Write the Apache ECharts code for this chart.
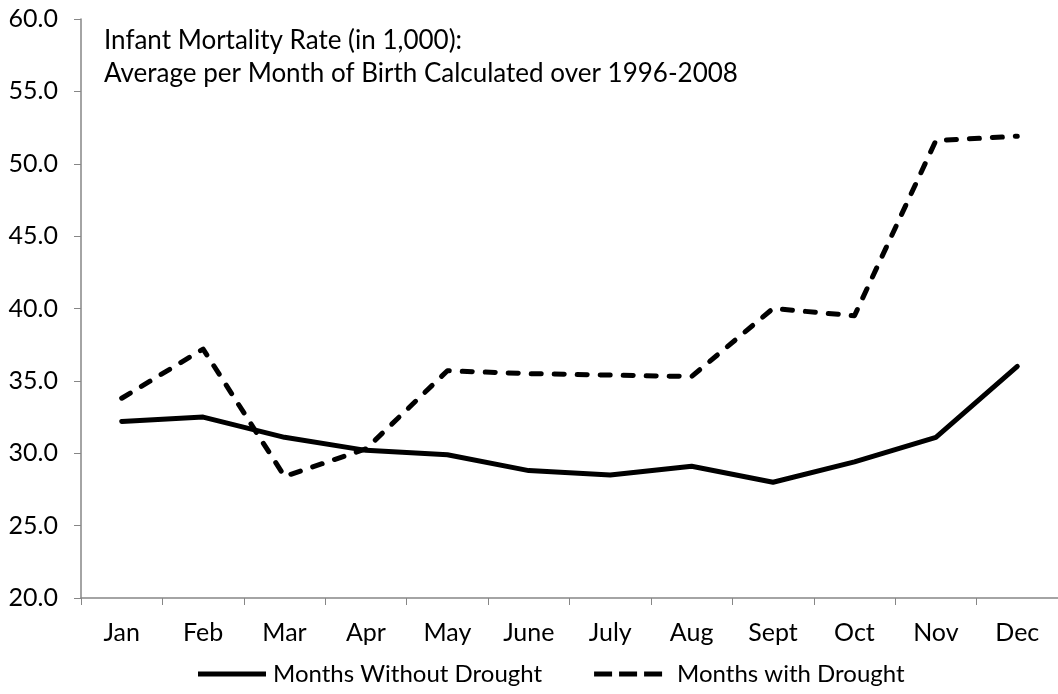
<!DOCTYPE html>
<html>
<head>
<meta charset="utf-8">
<script src="https://cdn.jsdelivr.net/npm/echarts@6/dist/echarts.min.js"></script>
<style>
  html, body { margin: 0; padding: 0; background: #fff; }
  #chart { width: 1058px; height: 694px; }
</style>
</head>
<body>
<div id="chart"></div>
<script>
// months of birth
var months = ["Jan", "Feb", "Mar", "Apr", "May", "June", "July", "Aug", "Sept", "Oct", "Nov", "Dec"];
// infant mortality per 1,000
var withoutDrought = [32.2, 32.5, 31.1, 30.2, 29.9, 28.8, 28.5, 29.1, 28.0, 29.4, 31.1, 36.0];
var withDrought = [33.8, 37.2, 28.4, 30.3, 35.7, 35.5, 35.4, 35.3, 40.0, 39.5, 51.6, 51.9];
var titleLines = ["Infant Mortality Rate (in 1,000):", "Average per Month of Birth Calculated over 1996-2008"];

var font = "Lato";
var chart = echarts.init(document.getElementById("chart"));
chart.setOption({
  animation: false,
  textStyle: { fontFamily: font },
  title: {
    text: titleLines.join("\n"),
    left: 99,
    top: 19,
    textStyle: { fontFamily: font, fontSize: 26, fontWeight: "normal", color: "#000", lineHeight: 33 }
  },
  legend: {
    bottom: 3,
    left: 193,
    itemWidth: 68,
    itemHeight: 5,
    itemGap: 52,
    textStyle: { fontFamily: font, fontSize: 24, color: "#000" },
    data: [
      {
        name: "Months Without Drought",
        icon: "path://M0,0 L68,0 L68,5 L0,5 Z",
        textStyle: { padding: [0, 0, 0, 2] }
      },
      {
        name: "Months with Drought",
        icon: "path://M0,0 L18,0 L18,5 L0,5 Z M25,0 L43,0 L43,5 L25,5 Z M50,0 L68,0 L68,5 L50,5 Z",
        textStyle: { padding: [0, 0, 0, 10] }
      }
    ]
  },
  grid: { left: 81, top: 19, width: 984, bottom: 96 },
  xAxis: {
    type: "category",
    data: months,
    boundaryGap: true,
    axisLine: { lineStyle: { color: "#868686", width: 1.5 } },
    axisTick: { show: true, length: 7, lineStyle: { color: "#868686" } },
    axisLabel: { color: "#000", fontSize: 25, margin: 22, fontFamily: font }
  },
  yAxis: {
    type: "value",
    min: 20,
    max: 60,
    interval: 5,
    axisLine: { show: true, lineStyle: { color: "#868686", width: 1.5 } },
    axisTick: { show: true, length: 7, lineStyle: { color: "#868686" } },
    splitLine: { show: false },
    axisLabel: {
      color: "#000", fontSize: 25, margin: 23, fontFamily: font,
      formatter: function (v) { return v.toFixed(1); }
    }
  },
  series: [
    {
      name: "Months Without Drought",
      type: "line",
      data: withoutDrought,
      symbol: "none",
      color: "#000",
      lineStyle: { color: "#000", width: 5, cap: "round", join: "round" }
    },
    {
      name: "Months with Drought",
      type: "line",
      data: withDrought,
      symbol: "none",
      color: "#000",
      lineStyle: { color: "#000", width: 5, type: [10, 13], cap: "round", join: "round" }
    }
  ]
});
</script>
</body>
</html>
